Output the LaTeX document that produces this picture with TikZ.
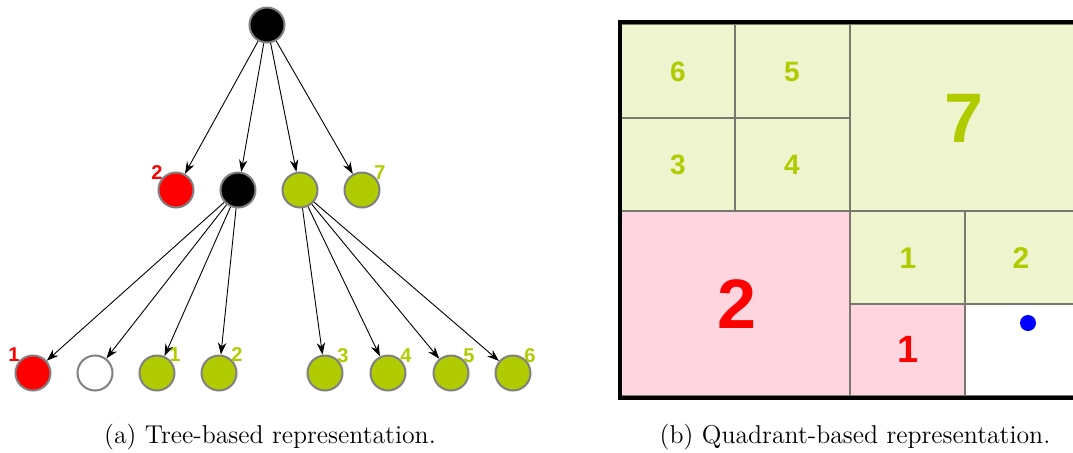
\documentclass[tikz,border=0pt]{standalone}
\usepackage{fontspec}
\newfontfamily\arialb{Liberation Sans}[BoldFont={* Bold}]
\usetikzlibrary{arrows.meta}
\definecolor{lime}{RGB}{176,204,0}
\definecolor{lgreen}{RGB}{238,244,206}
\definecolor{lpink}{RGB}{255,214,224}
\definecolor{rimgray}{RGB}{128,128,128}
\definecolor{cellgray}{RGB}{120,120,110}
\tikzset{
  vert/.style={circle,draw=rimgray,line width=1pt,minimum size=17.5pt,inner sep=0pt},
  bnode/.style={vert,fill=black},
  rnode/.style={vert,fill=red},
  gnode/.style={vert,fill=lime},
  wnode/.style={vert,fill=white},
  edge/.style={-{Stealth[length=6pt,width=4.2pt]},line width=0.45pt,black},
  tlab/.style={font=\arialb\bfseries\fontsize{10}{10}\selectfont,inner sep=0pt},
  qcell/.style={draw=cellgray,line width=0.6pt},
  qlab/.style={font=\arialb\bfseries\fontsize{#1}{#1}\selectfont,inner sep=0pt},
  captext/.style={font=\fontsize{12.9}{15}\selectfont,inner sep=0pt}
}
\begin{document}
\begin{tikzpicture}[x=0.5pt,y=-0.5pt]
\useasboundingbox (0,0) rectangle (1073,452);
% ---------- tree ----------
\node[bnode] (r) at (267,25) {};
\node[rnode] (a) at (176,190) {};
\node[bnode] (b) at (238,190) {};
\node[gnode] (c) at (300,190) {};
\node[gnode] (d) at (362,190) {};
\node[rnode] (b1) at (33,373) {};
\node[wnode] (b2) at (95,373) {};
\node[gnode] (b3) at (157,373) {};
\node[gnode] (b4) at (219,373) {};
\node[gnode] (c1) at (325,373) {};
\node[gnode] (c2) at (388,373) {};
\node[gnode] (c3) at (451,373) {};
\node[gnode] (c4) at (513,373) {};
\foreach \t in {a,b,c,d} \draw[edge] (r) -- (\t);
\foreach \t in {b1,b2,b3,b4} \draw[edge] (b) -- (\t);
\foreach \t in {c1,c2,c3,c4} \draw[edge] (c) -- (\t);
\node[tlab,text=red] (la) at (157,173) {2};
\node[tlab,text=lime] (ld) at (380,173) {7};
\node[tlab,text=red] (lb1) at (14,355) {1};
\node[tlab,text=lime] (lb3) at (175,355) {1};
\node[tlab,text=lime] (lb4) at (237,355) {2};
\node[tlab,text=lime] (lc1) at (343,356) {3};
\node[tlab,text=lime] (lc2) at (406,356) {4};
\node[tlab,text=lime] (lc3) at (469,356) {5};
\node[tlab,text=lime] (lc4) at (530,356) {6};
\node[captext] (capa) at (270,437) {(a) Tree-based representation.};
% ---------- quadrants ----------
\begin{scope}
\clip (600,0) rectangle (1073,420);
\draw[qcell,fill=lgreen] (621,24) rectangle (735,118);
\draw[qcell,fill=lgreen] (735,24) rectangle (850,118);
\draw[qcell,fill=lgreen] (621,118) rectangle (735,211);
\draw[qcell,fill=lgreen] (735,118) rectangle (850,211);
\draw[qcell,fill=lgreen] (850,24) rectangle (1082,211);
\draw[qcell,fill=lpink] (621,211) rectangle (850,396);
\draw[qcell,fill=lgreen] (850,211) rectangle (965,304);
\draw[qcell,fill=lgreen] (965,211) rectangle (1082,304);
\draw[qcell,fill=lpink] (850,304) rectangle (965,396);
\draw[qcell,fill=white] (965,304) rectangle (1082,396);
\draw[black,line width=1.6pt] (620,22) rectangle (1085,398);
\end{scope}
\node[qlab=14,text=lime] (q6) at (678,72) {6};
\node[qlab=14,text=lime] (q5) at (792,72) {5};
\node[qlab=14,text=lime] (q3) at (678,165) {3};
\node[qlab=14,text=lime] (q4) at (792,165) {4};
\node[qlab=35,text=lime] (q7) at (964,118) {7};
\node[qlab=35,text=red] (q2b) at (737,304) {2};
\node[qlab=15,text=lime] (q1) at (908,258) {1};
\node[qlab=15,text=lime] (q2) at (1021,258) {2};
\node[qlab=19,text=red] (q1r) at (908,349) {1};
\node[circle,fill=blue,minimum size=8pt,inner sep=0pt] (dot) at (1028,323) {};
\node[captext] (capb) at (855,437) {(b) Quadrant-based representation.};
\end{tikzpicture}
\end{document}
